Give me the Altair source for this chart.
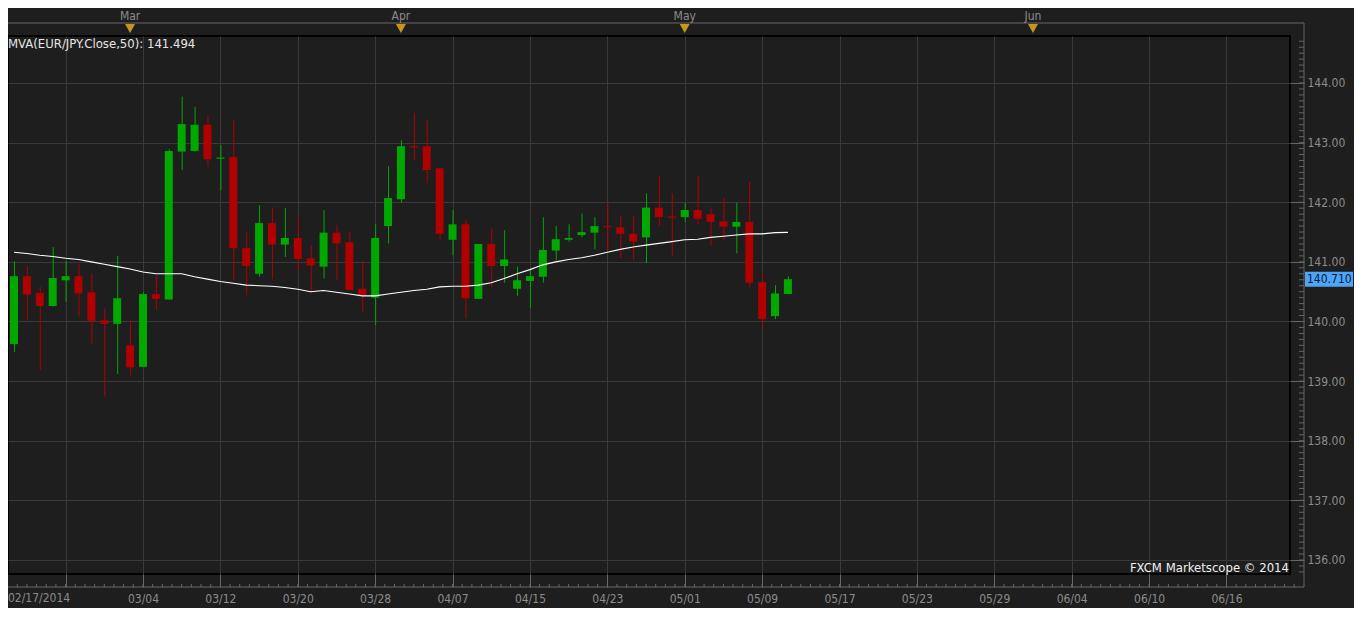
import altair as alt
import pandas as pd

# ---------------- data ----------------
idx = list(range(61))
opens = [139.62, 140.76, 140.48, 140.26, 140.69, 140.76, 140.49, 140.02, 139.96, 139.60,
         139.24, 140.46, 140.37, 142.85, 142.86, 143.30, 142.73, 142.76, 141.23, 140.80,
         141.65, 141.29, 141.40, 141.06, 140.92, 141.49, 141.33, 140.55, 140.40, 141.60,
         142.05, 142.94, 142.94, 142.57, 141.37, 141.63, 140.38, 141.30, 140.93, 140.55,
         140.68, 140.75, 141.19, 141.37, 141.45, 141.49, 141.60, 141.58, 141.47, 141.41,
         141.91, 141.76, 141.75, 141.87, 141.80, 141.68, 141.59, 141.67, 140.66, 140.09,
         140.46]
highs = [141.01, 140.92, 140.58, 141.25, 141.01, 140.97, 140.81, 140.22, 141.10, 140.02,
         140.49, 140.76, 142.89, 143.77, 143.60, 143.45, 142.96, 143.38, 141.49, 141.95,
         141.91, 141.90, 141.75, 141.28, 141.87, 141.62, 141.51, 141.03, 141.63, 142.60,
         143.04, 143.50, 143.38, 142.57, 141.87, 141.70, 141.30, 141.56, 141.53, 140.92,
         140.89, 141.75, 141.60, 141.63, 141.81, 141.75, 141.99, 141.77, 141.76, 142.15,
         142.44, 142.15, 141.99, 142.44, 141.91, 142.07, 141.99, 142.34, 140.81, 140.61,
         140.76]
lows = [139.49, 140.02, 139.18, 140.25, 140.33, 140.08, 139.63, 138.74, 139.12, 139.10,
        139.24, 140.19, 140.37, 142.54, 142.85, 142.60, 142.20, 140.69, 140.44, 140.75,
        140.71, 141.08, 140.84, 140.47, 140.72, 140.69, 140.52, 140.16, 139.94, 141.31,
        141.99, 142.71, 142.32, 141.38, 141.11, 140.05, 140.38, 140.58, 140.65, 140.43,
        140.22, 140.65, 141.03, 141.34, 141.41, 141.21, 141.19, 141.06, 141.03, 140.98,
        141.60, 141.10, 141.67, 141.63, 141.28, 141.37, 141.14, 140.57, 139.91, 140.04,
        140.46]
closes = [140.76, 140.45, 140.26, 140.73, 140.76, 140.47, 140.01, 139.96, 140.39, 139.23,
          140.46, 140.38, 142.86, 143.31, 143.30, 142.72, 142.75, 141.23, 140.93, 141.65,
          141.29, 141.40, 141.05, 140.94, 141.49, 141.31, 140.53, 140.44, 141.40, 142.07,
          142.94, 142.92, 142.54, 141.47, 141.63, 140.39, 141.30, 140.93, 141.04, 140.69,
          140.76, 141.20, 141.38, 141.40, 141.50, 141.60, 141.58, 141.47, 141.34, 141.91,
          141.75, 141.74, 141.87, 141.72, 141.67, 141.59, 141.67, 140.65, 140.04, 140.47,
          140.71]
ma50 = [141.16, 141.14, 141.11, 141.09, 141.06, 141.04, 141.00, 140.96, 140.92, 140.88,
        140.83, 140.80, 140.80, 140.80, 140.75, 140.71, 140.67, 140.64, 140.61, 140.60,
        140.59, 140.57, 140.54, 140.50, 140.52, 140.49, 140.46, 140.43, 140.43, 140.46,
        140.49, 140.52, 140.54, 140.58, 140.59, 140.59, 140.61, 140.65, 140.72, 140.80,
        140.87, 140.95, 141.00, 141.04, 141.07, 141.11, 141.16, 141.21, 141.25, 141.28,
        141.31, 141.34, 141.37, 141.38, 141.41, 141.43, 141.45, 141.47, 141.47, 141.49,
        141.494]

x_tick_idx = [4, 10, 16, 22, 28, 34, 40, 46, 52, 58, 64, 70, 76, 82, 88, 94]
x_tick_labels = ['', '03/04', '03/12', '03/20', '03/28', '04/07', '04/15', '04/23',
                 '05/01', '05/09', '05/17', '05/23', '05/29', '06/04', '06/10', '06/16']
y_ticks = [136, 137, 138, 139, 140, 141, 142, 143, 144]
month_idx = [9, 30, 52, 79]
month_labels = ['Mar', 'Apr', 'May', 'Jun']
first_date_label = '02/17/2014'
mva_label = 'MVA(EUR/JPY.Close,50): 141.494'
credit = 'FXCM Marketscope \u00a9 2014'

# ---------------- styling ----------------
FONT = "Tahoma, 'DejaVu Sans Condensed', 'DejaVu Sans', sans-serif"
BG = '#1e1e1e'
GRID = '#3a3a3a'
AXC = '#666666'
LBL = '#8c8c8c'
UP = '#00a800'
DOWN = '#b00000'
W, H = 1282, 538

df = pd.DataFrame({'i': idx, 'open': opens, 'high': highs, 'low': lows,
                   'close': closes, 'ma': ma50})
df['dir'] = ['up' if c >= o else 'down' for o, c in zip(opens, closes)]

label_expr = '[' + ','.join("'%s'" % s for s in x_tick_labels) + '][(datum.value-4)/6]'

xscale = alt.Scale(domain=[-1 / 13, 1281 / 13], nice=False, zero=False)
yscale = alt.Scale(domain=[135.765, 144.788], nice=False, zero=False)
ax_x = alt.Axis(values=x_tick_idx, labelExpr=label_expr, title=None, grid=True,
                gridColor=GRID, gridWidth=1, tickSize=13, tickColor=AXC, domain=False,
                labelPadding=6, labelColor=LBL, labelFont=FONT, labelFontSize=12,
                labelFlush=False, labelOverlap=False)
ax_y = alt.Axis(values=y_ticks, format='.2f', orient='right', title=None, grid=True,
                gridColor=GRID, gridWidth=1, tickSize=14, tickColor=AXC, domain=False,
                labelPadding=3, labelColor=LBL, labelFont=FONT, labelFontSize=12)

X = alt.X('i:Q', scale=xscale, axis=ax_x)
colr = alt.Color('dir:N', scale=alt.Scale(domain=['up', 'down'], range=[UP, DOWN]),
                 legend=None)

base = alt.Chart(df)
wicks = base.mark_rule(strokeWidth=1, xOffset=0.5).encode(
    x=X, y=alt.Y('low:Q', scale=yscale, axis=ax_y), y2='high:Q', color=colr)
bodies = base.mark_bar(size=8).encode(
    x=X, y=alt.Y('open:Q', scale=yscale, axis=ax_y), y2='close:Q', color=colr)
ma_line = base.mark_line(color='#ffffff', strokeWidth=1.1).encode(
    x=X, y=alt.Y('ma:Q', scale=yscale, axis=ax_y))

one = alt.Chart(pd.DataFrame({'a': [0]}))
top_line = one.mark_rule(color=AXC).encode(x=alt.value(0), x2=alt.value(1296), y=alt.value(-13))
bot_line = one.mark_rule(color=AXC).encode(x=alt.value(0), x2=alt.value(1296), y=alt.value(551))
right_line = one.mark_rule(color=AXC).encode(x=alt.value(1296), y=alt.value(-13), y2=alt.value(551))

y_minor = alt.Chart(alt.sequence(135.8, 144.8, 0.1, as_='v')).mark_rule(color=AXC).encode(
    y=alt.Y('v:Q', scale=yscale, axis=ax_y), x=alt.value(1291), x2=alt.value(1296))
x_minor = alt.Chart(alt.sequence(-0.5, 99.6, 0.75, as_='t')).mark_rule(color=AXC).encode(
    x=alt.X('t:Q', scale=xscale, axis=ax_x), y=alt.value(548), y2=alt.value(551))

mdf = pd.DataFrame({'i': month_idx, 'label': month_labels})
month_text = alt.Chart(mdf).mark_text(font=FONT, fontSize=12, color=LBL, baseline='middle').encode(
    x=X, y=alt.value(-20), text='label:N')
month_tri = alt.Chart(mdf).mark_point(shape='M-1,-0.9L1,-0.9L0,0.9Z', size=100, filled=True,
                                      opacity=1, color='#c8961e', strokeWidth=0).encode(
    x=X, y=alt.value(-7.5))

mva_text = one.mark_text(font=FONT, fontSize=13, color='#e6e6e6', align='left',
                         baseline='middle').encode(x=alt.value(0), y=alt.value(8),
                                                   text=alt.value(mva_label))
credit_text = one.mark_text(font=FONT, fontSize=13, color='#f0f0f0', align='right',
                            baseline='middle').encode(x=alt.value(1281), y=alt.value(532),
                                                      text=alt.value(credit))
first_text = one.mark_text(font=FONT, fontSize=12, color=LBL, align='left',
                           baseline='top').encode(x=alt.value(0), y=alt.value(557),
                                                  text=alt.value(first_date_label))

last = base.transform_filter('datum.i == 60')
tag = last.mark_point(shape='M-1,-0.3125L1,-0.3125L1,0.3125L-1,0.3125Z', size=2304,
                      filled=True, opacity=1, color='#4ea5f7', strokeWidth=0).encode(
    x=alt.value(1321), y=alt.Y('close:Q', scale=yscale, axis=ax_y))
tag_text = last.mark_text(font=FONT, fontSize=12, color='#0b1a3a', align='left',
                          baseline='middle').encode(
    x=alt.value(1299), y=alt.Y('close:Q', scale=yscale, axis=ax_y),
    text=alt.Text('close:Q', format='.3f'))

chart = alt.layer(
    wicks, bodies, ma_line, y_minor, x_minor, top_line, bot_line, right_line,
    month_text, month_tri, mva_text, credit_text, first_text, tag, tag_text
).properties(
    width=W, height=H,
    padding={'left': 0, 'top': 28, 'right': 64, 'bottom': 34},
    autosize=alt.AutoSizeParams(type='none'),
).configure(background=BG).configure_view(stroke='#000000', strokeWidth=2)

chart.save('out.html', embed_options={'renderer': 'svg', 'actions': False})
